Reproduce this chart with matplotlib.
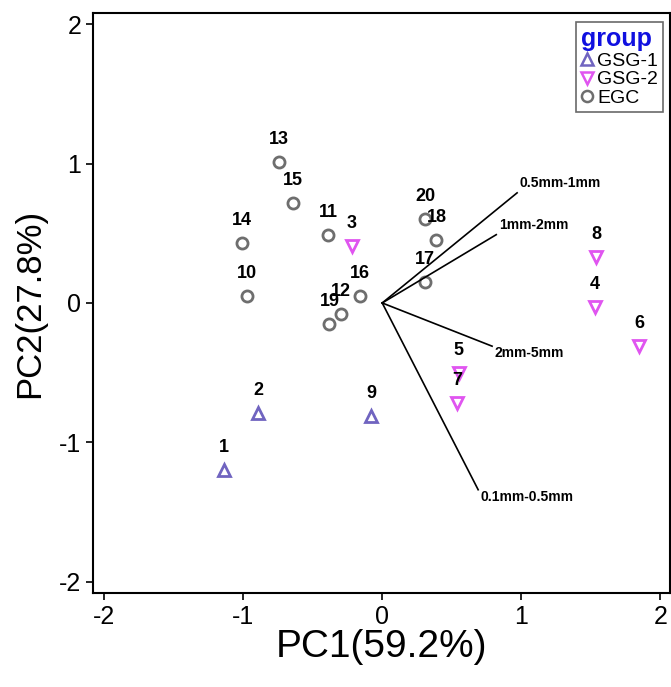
import numpy as np
import matplotlib.pyplot as plt
from matplotlib.lines import Line2D

plt.rcParams["font.family"] = ["Liberation Sans", "DejaVu Sans"]
plt.rcParams["axes.unicode_minus"] = False

# sample scores (PC1, PC2)
gsg1_ids = ["1", "2", "9"]
gsg1_pc1 = [-1.14, -0.89, -0.08]
gsg1_pc2 = [-1.20, -0.79, -0.81]

gsg2_ids = ["3", "5", "7", "8", "4", "6"]
gsg2_pc1 = [-0.22, 0.55, 0.54, 1.54, 1.53, 1.85]
gsg2_pc2 = [0.41, -0.50, -0.72, 0.33, -0.03, -0.31]

egc_ids = ["13", "15", "14", "10", "11", "16", "12", "19", "20", "18", "17"]
egc_pc1 = [-0.74, -0.64, -1.01, -0.97, -0.39, -0.16, -0.30, -0.38, 0.31, 0.39, 0.31]
egc_pc2 = [1.01, 0.72, 0.43, 0.05, 0.49, 0.05, -0.08, -0.15, 0.60, 0.45, 0.15]

# loading vectors
var_names = ["0.5mm-1mm", "1mm-2mm", "2mm-5mm", "0.1mm-0.5mm"]
var_pc1 = [0.97, 0.82, 0.79, 0.69]
var_pc2 = [0.79, 0.49, -0.31, -1.34]

groups = [
    ("GSG-1", gsg1_ids, gsg1_pc1, gsg1_pc2, "^", "#7064C0"),
    ("GSG-2", gsg2_ids, gsg2_pc1, gsg2_pc2, "v", "#E055F0"),
    ("EGC", egc_ids, egc_pc1, egc_pc2, "o", "#6E6E6E"),
]

fig = plt.figure(figsize=(6.71, 6.87), dpi=100)
ax = fig.add_axes([0.1386, 0.137, 0.86, 0.844])

for name, ids, xs, ys, mk, col in groups:
    ax.plot(xs, ys, linestyle="none", marker=mk, markersize=8,
            markerfacecolor="none", markeredgecolor=col, markeredgewidth=2)
    for lab, x, y in zip(ids, xs, ys):
        ax.annotate(lab, (x, y), xytext=(0, 10), textcoords="offset points",
                    ha="center", va="bottom", fontsize=13, fontweight="bold")

for name, x, y in zip(var_names, var_pc1, var_pc2):
    ax.plot([0, x], [0, y], color="black", linewidth=1.2)
    ax.annotate(name, (x, y), xytext=(2, -5 if y < 0 else 7),
                textcoords="offset points", ha="left", va="center",
                fontsize=10, fontweight="bold")

ax.set_xlim(-2.08, 2.07)
ax.set_ylim(-2.08, 2.08)
ax.set_xticks([-2, -1, 0, 1, 2])
ax.set_yticks([-2, -1, 0, 1, 2])
ax.tick_params(labelsize=18, length=5, width=1.2)
for s in ax.spines.values():
    s.set_linewidth(1.5)

ax.set_xlabel("PC1(59.2%)", fontsize=28, labelpad=0)
ax.set_ylabel("PC2(27.8%)", fontsize=25, labelpad=9)

handles = [Line2D([], [], linestyle="none", marker=mk, markersize=8,
                  markerfacecolor="none", markeredgecolor=col, markeredgewidth=1.8)
           for name, ids, xs, ys, mk, col in groups]
leg = ax.legend(handles, [g[0] for g in groups], title="group", loc="upper right",
                fontsize=14, handlelength=0.6, handletextpad=0.25, borderpad=0.25,
                labelspacing=0.05, fancybox=False, edgecolor="#444444",
                bbox_to_anchor=(0.988, 0.984), borderaxespad=0)
leg.get_title().set_color("#1010E0")
leg.get_title().set_fontweight("bold")
leg.get_title().set_fontsize(18)
leg.get_frame().set_linewidth(1.2)
leg._legend_box.align = "left"

fig.savefig("out.png", dpi=100)
